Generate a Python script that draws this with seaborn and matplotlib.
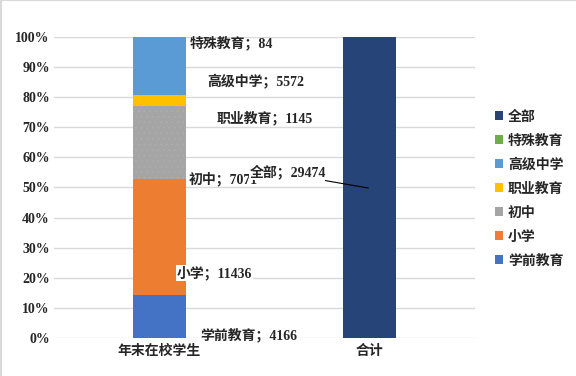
import matplotlib
matplotlib.use("Agg")
import matplotlib.pyplot as plt
from matplotlib.lines import Line2D
from matplotlib.patches import Patch
import seaborn as sns
import pandas as pd
import numpy as np

categories = ["年末在校学生", "合计"]
segments = ["学前教育", "小学", "初中", "职业教育", "高级中学", "特殊教育"]
segment_values = [4166, 11436, 7071, 1145, 5572, 84]
total_name = "全部"
total_value = 29474
colors = {
    "学前教育": "#4472C4",
    "小学": "#ED7D31",
    "初中": "#A5A5A5",
    "职业教育": "#FFC000",
    "高级中学": "#5B9BD5",
    "特殊教育": "#70AD47",
    "全部": "#264478",
}
yticks = [0, 0.1, 0.2, 0.3, 0.4, 0.5, 0.6, 0.7, 0.8, 0.9, 1.0]
ytick_labels = ["0%", "10%", "20%", "30%", "40%", "50%", "60%", "70%", "80%", "90%", "100%"]

sns.set_theme(style="white")
FONTS = ["Liberation Serif", "Noto Sans CJK SC", "DejaVu Sans"]
plt.rcParams["font.family"] = FONTS
plt.rcParams["hatch.linewidth"] = 0.5

fig = plt.figure(figsize=(5.76, 3.76), dpi=100)
ax = fig.add_axes([0.0946, 0.1011, 0.7292, 0.8005])

first_total = sum(segment_values)
fracs = [v / first_total for v in segment_values]
cum = np.cumsum(fracs)

# draw stacked bar from top (largest cumulative) to bottom
for i in range(len(segments) - 1, -1, -1):
    df = pd.DataFrame({"cat": [categories[0]], "val": [cum[i]]})
    sns.barplot(data=df, x="cat", y="val", order=categories, color=colors[segments[i]],
                saturation=1, width=0.25, ax=ax, linewidth=0, zorder=2)
# the total bar
df = pd.DataFrame({"cat": [categories[1]], "val": [total_value / total_value]})
sns.barplot(data=df, x="cat", y="val", order=categories, color=colors[total_name],
            saturation=1, width=0.25, ax=ax, linewidth=0, zorder=2)

# subtle dot texture on 初中 segment
for p in ax.patches:
    fc = p.get_facecolor()
    if np.allclose(fc[:3], matplotlib.colors.to_rgb(colors["初中"]), atol=0.01):
        p.set_hatch("...")
        p.set_edgecolor("#AEAEAE")
        p.set_linewidth(0)

ax.set_xlim(-0.5, 1.5)
ax.set_ylim(0, 1.0)
ax.set_yticks(yticks)
ax.set_yticklabels(ytick_labels, fontsize=10, fontweight="bold", family=FONTS)
ax.set_xticks([0, 1])
ax.set_xticklabels(categories, fontsize=10, fontweight="bold", family=["Noto Sans CJK SC", "DejaVu Sans"])
ax.tick_params(axis="x", length=0, pad=4)
ax.tick_params(axis="y", length=0, pad=3.5)
ax.set_xlabel("")
ax.set_ylabel("")
for s in ax.spines.values():
    s.set_visible(False)
ax.yaxis.grid(True, color="#D9D9D9", linewidth=1, zorder=0)
ax.set_axisbelow(True)
ax.patch.set_alpha(0)

# data labels (segment_name；value)
label_pos = [
    (0.196, 0.010),
    (0.083, 0.216),
    (0.140, 0.528),
    (0.274, 0.731),
    (0.226, 0.850),
    (0.145, 0.980),
]
lab_font = ["Liberation Serif", "Noto Sans CJK SC", "DejaVu Sans"]
for i, (name, val) in enumerate(zip(segments, segment_values)):
    x, y = label_pos[i]
    bbox = dict(facecolor="white", edgecolor="none", pad=0.5) if name == "小学" else None
    ax.text(x, y, f"{name}；{val}", ha="left", va="center", fontsize=10,
            fontweight="bold", family=lab_font, bbox=bbox, zorder=5)

# total label with leader line
ax.plot([0.790, 0.995], [0.523, 0.498], color="black", linewidth=0.8, zorder=4)
ax.text(0.431, 0.5525, f"{total_name}；{total_value}", ha="left", va="center", fontsize=10,
        fontweight="bold", family=lab_font,
        bbox=dict(facecolor="white", edgecolor="none", pad=0.5), zorder=6)

# legend
order = [total_name] + segments[::-1]
handles = [Patch(facecolor=colors[n], edgecolor="none") for n in order]
leg = fig.legend(handles, order, loc="center left", bbox_to_anchor=(0.859, 0.4987),
                 frameon=False, borderpad=0, borderaxespad=0, handlelength=0.6,
                 handleheight=0.6, handletextpad=0.35, labelspacing=0.72,
                 prop={"family": ["Noto Sans CJK SC", "DejaVu Sans"], "size": 10, "weight": "bold"})

# chart border (left and top visible)
fig.add_artist(Line2D([0.001, 0.001], [0, 1], transform=fig.transFigure, color="#D9D9D9", linewidth=1.5))
fig.add_artist(Line2D([0, 1], [0.999, 0.999], transform=fig.transFigure, color="#D9D9D9", linewidth=1.5))

fig.savefig("out.png", dpi=100)
